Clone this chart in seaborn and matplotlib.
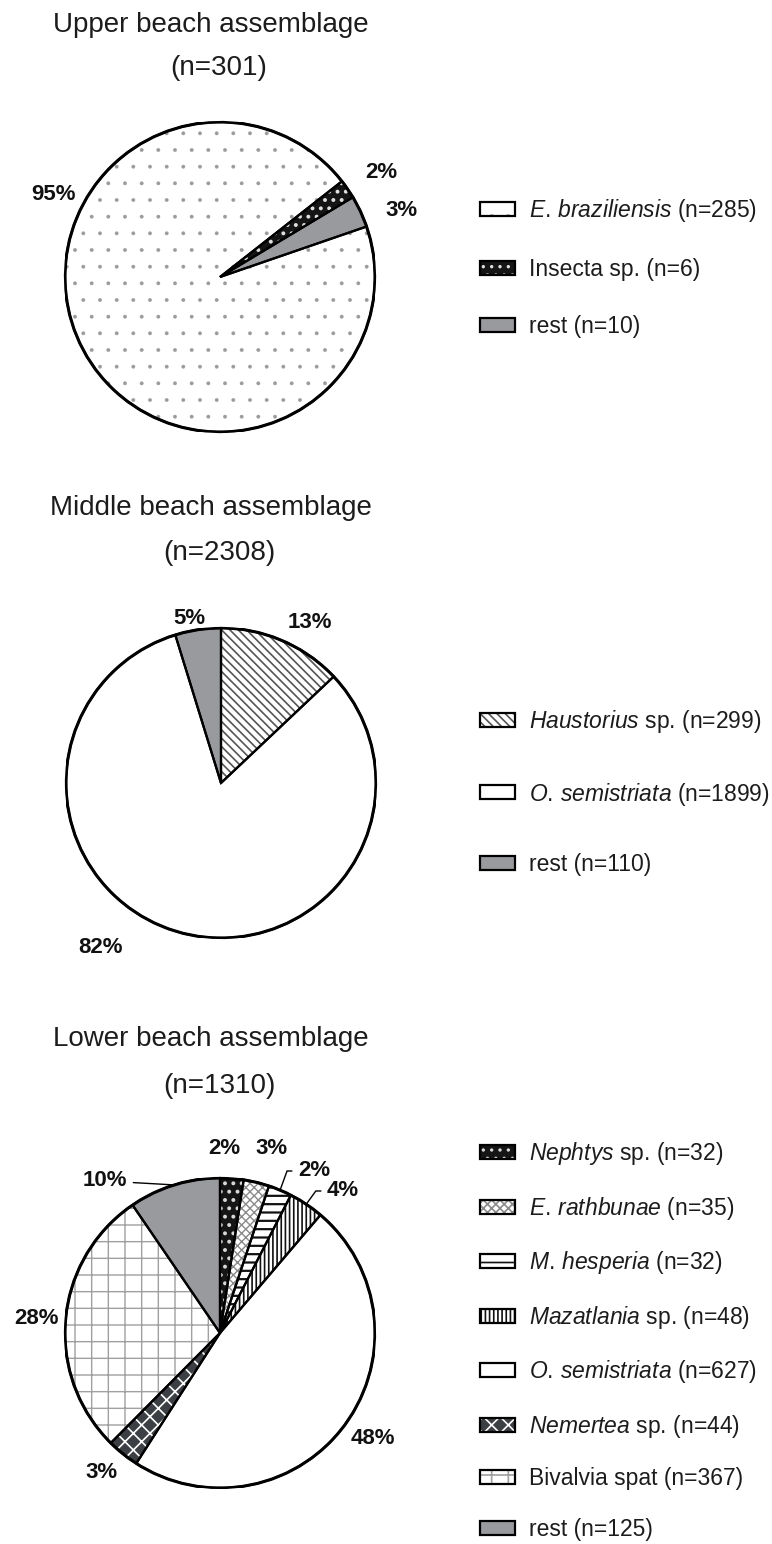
import matplotlib
matplotlib.use("Agg")
import matplotlib.pyplot as plt
import seaborn as sns
from matplotlib.patches import Patch, Circle
import numpy as np

# ---------------- data ----------------
upper_title = "Upper beach assemblage"
upper_italic = ["E. braziliensis", "", ""]
upper_plain = ["", "Insecta sp.", "rest"]
upper_counts = [285, 6, 10]

middle_title = "Middle beach assemblage"
middle_italic = ["Haustorius", "O. semistriata", ""]
middle_plain = ["sp.", "", "rest"]
middle_counts = [299, 1899, 110]

lower_title = "Lower beach assemblage"
lower_italic = ["Nephtys", "E. rathbunae", "M. hesperia", "Mazatlania",
                "O. semistriata", "Nemertea", "", ""]
lower_plain = ["sp.", "", "", "sp.", "", "sp.", "Bivalvia spat", "rest"]
lower_counts = [32, 35, 32, 48, 627, 44, 367, 125]

# ---------------- styles (facecolor, hatch, hatch colour, hatch lw) ----------------
GRAY = "#989a9e"
upper_style = [("white", ".", "#9a9a9a", 0.3), ("#151515", "..", "#e0e0e0", 1.6),
               (GRAY, "", GRAY, 1.0)]
middle_style = [("white", "\\\\\\\\", "#555555", 1.2), ("white", "", "white", 1.0),
                (GRAY, "", GRAY, 1.0)]
lower_style = [("#151515", "..", "#d8d8d8", 1.6), ("white", "xxxx", "#8a8a8a", 1.0),
               ("white", "--", "#111111", 1.6), ("white", "||||", "#111111", 1.2),
               ("white", "", "white", 1.0), ("#3c3f43", "xx", "white", 1.2),
               ("white", "+", "#a0a0a0", 1.0), (GRAY, "", GRAY, 1.0)]

sns.set_theme(style="white")
plt.rcParams["font.family"] = ["Liberation Sans", "DejaVu Sans"]
plt.rcParams["mathtext.fontset"] = "custom"
plt.rcParams["mathtext.it"] = "Liberation Sans:italic"
plt.rcParams["mathtext.rm"] = "Liberation Sans"
plt.rcParams["hatch.linewidth"] = 1.2

W, H = 772, 1544
R = 155
LEG_FS = 16.5
fig = plt.figure(figsize=(W / 100, H / 100), dpi=100)
fig.patch.set_facecolor("white")


def make_label(it, plain, n):
    parts = []
    if it:
        parts.extend(r"$\it{" + word.replace(".", r".\!") + "}$" for word in it.split(" "))
    if plain:
        parts.append(plain)
    return " ".join(parts) + f" (n={n})"


def style_patch(p, h, hc, hlw):
    p.set_hatch(h)
    p.set_edgecolor(hc)
    p.set_linewidth(0)
    if hasattr(p, "set_hatch_linewidth"):
        p.set_hatch_linewidth(hlw)


def draw_block(counts, italic, plain, style, title, cx, cy, startangle,
               title_base, n_base, label_pos, leg_y, leg_spacing, leaders=None):
    ax = fig.add_axes([(cx - R) / W, 1 - (cy + R) / H, 2 * R / W, 2 * R / H])
    fcs = [s[0] for s in style]
    wedges, _ = ax.pie(counts, startangle=startangle, counterclock=False,
                       colors=fcs, radius=1.0, wedgeprops=dict(linewidth=0))
    for w, s in zip(wedges, style):
        style_patch(w, s[1], s[2], s[3])
    ax.pie(counts, startangle=startangle, counterclock=False,
           colors=["none"] * len(counts), radius=1.0,
           wedgeprops=dict(linewidth=1.6, edgecolor="black", facecolor="none"))
    ax.add_patch(Circle((0, 0), 1.0, fill=False, lw=2.2, ec="black"))
    ax.set_xlim(-1, 1)
    ax.set_ylim(-1, 1)
    ax.axis("off")

    total = sum(counts)
    pcts = [round(100 * c / total) for c in counts]
    for i, (px, py) in enumerate(label_pos):
        tx, ty = (px - cx) / R, (cy - py) / R
        if leaders and i in leaders:
            ang_start = startangle - 360 * sum(counts[:i]) / total
            mid = np.deg2rad(ang_start - 180 * counts[i] / total)
            ax.annotate(f"{pcts[i]}%", xy=(np.cos(mid), np.sin(mid)), xytext=(tx, ty),
                        ha="center", va="center", fontsize=16, fontweight="bold",
                        color="#111111", annotation_clip=False,
                        arrowprops=dict(arrowstyle="-", lw=1.0, color="black",
                                        shrinkA=2, shrinkB=0,
                                        connectionstyle=leaders[i]))
        else:
            ax.text(tx, ty, f"{pcts[i]}%", ha="center", va="center", fontsize=16,
                    fontweight="bold", color="#111111", clip_on=False)

    fig.text(211 / W, 1 - title_base / H, title, ha="center", va="baseline",
             fontsize=20, color="#1c1c1c")
    fig.text(219 / W, 1 - n_base / H, f"(n={total})", ha="center", va="baseline",
             fontsize=20, color="#1c1c1c")

    handles = []
    for s in style:
        hp = Patch(facecolor=s[0])
        style_patch(hp, s[1], s[2], s[3])
        handles.append((hp, Patch(facecolor="none", edgecolor="black", lw=1.6)))
    labels = [make_label(a, b, n) for a, b, n in zip(italic, plain, counts)]
    ax.legend(handles, labels, loc="center left",
              bbox_to_anchor=(480 / W, 1 - leg_y / H), bbox_transform=fig.transFigure,
              frameon=False, fontsize=LEG_FS, handlelength=1.53, handleheight=0.56,
              handletextpad=0.62, labelspacing=leg_spacing, borderpad=0,
              borderaxespad=0, labelcolor="#1c1c1c")


draw_block(upper_counts, upper_italic, upper_plain, upper_style, upper_title,
           220, 277, 19, 32, 75,
           [(53, 195), (381, 172), (402, 211)], 267.5, 1.50)

draw_block(middle_counts, middle_italic, middle_plain, middle_style, middle_title,
           221, 783, 90, 515, 560,
           [(310, 622), (100, 947), (189, 618)], 792, 2.0)

draw_block(lower_counts, lower_italic, lower_plain, lower_style, lower_title,
           220, 1333, 90, 1046, 1093,
           [(224, 1149), (272, 1149), (314, 1171), (343, 1191), (373, 1438),
            (102, 1473), (36, 1318), (105, 1181)],
           1340.5, 1.20,
           leaders={2: "angle,angleA=0,angleB=70,rad=0",
                    3: "angle,angleA=0,angleB=54,rad=0",
                    7: "arc3,rad=0"})

fig.savefig("out.png", dpi=100, facecolor="white")
